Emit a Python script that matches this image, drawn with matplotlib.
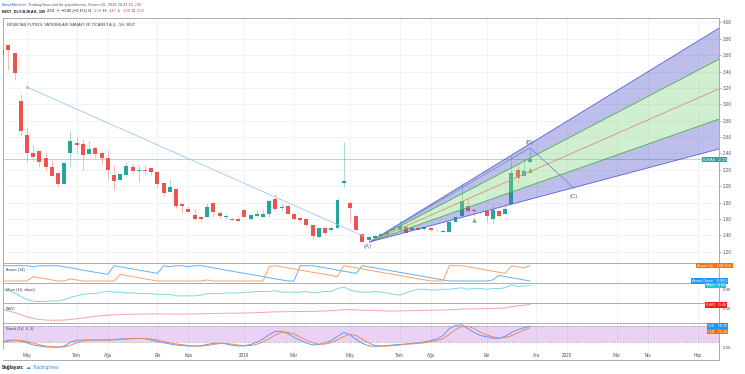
import numpy as np
import matplotlib.pyplot as plt
from matplotlib.patches import Rectangle

plt.rcParams['font.family'] = ['Liberation Sans', 'DejaVu Sans']

# weekly bars, week 0 = first week of May 2018
weeks = list(range(-4, 82))
opens = [3.60, 3.72, 3.63, 3.04, 2.63, 2.41, 2.43, 2.35, 2.24, 2.16,
         2.03, 2.40, 2.53, 2.51, 2.39, 2.47, 2.40, 2.35, 2.14, 2.08,
         2.14, 2.24, 2.19, 2.20, 2.22, 2.175, 2.04, 1.93, 1.965, 1.78,
         1.72, 1.645, 1.62, 1.62, 1.795, 1.675, 1.63, 1.605, 1.605, 1.715,
         1.595, 1.64, 1.63, 1.665, 1.85, 1.74, 1.755, 1.655, 1.615, 1.595,
         1.525, 1.38, 1.485, 1.465, 1.485, 2.045, 1.795, 1.635, 1.415, 1.34,
         1.37, 1.39, 1.40, 1.46, 1.46, 1.50, 1.47, 1.495, 1.48, 1.495,
         1.465, 1.445, 1.44, 1.565, 1.635, 1.755, 1.715, 1.67, 1.70, 1.595,
         1.70, 1.665, 1.78, 2.195, 2.125, 2.29]
highs = [3.70, 3.72, 3.63, 3.12, 2.71, 2.50, 2.43, 2.41, 2.32, 2.16,
         2.30, 2.67, 2.60, 2.58, 2.55, 2.49, 2.43, 2.44, 2.26, 2.15,
         2.30, 2.27, 2.26, 2.26, 2.22, 2.175, 2.04, 2.09, 1.965, 1.79,
         1.755, 1.72, 1.635, 1.80, 1.81, 1.71, 1.66, 1.625, 1.635, 1.735,
         1.65, 1.72, 1.72, 1.85, 1.90, 1.79, 1.77, 1.655, 1.625, 1.595,
         1.525, 1.49, 1.50, 1.51, 1.86, 2.54, 1.82, 1.635, 1.415, 1.39,
         1.41, 1.43, 1.46, 1.49, 1.585, 1.51, 1.51, 1.50, 1.51, 1.50,
         1.48, 1.46, 1.58, 1.635, 2.05, 1.84, 1.74, 1.69, 1.70, 1.765,
         1.725, 1.775, 2.38, 2.285, 2.33, 2.47]
lows = [3.57, 3.42, 3.30, 2.63, 2.29, 2.31, 2.24, 2.20, 2.13, 1.99,
        2.03, 2.24, 2.41, 2.20, 2.39, 2.35, 2.27, 2.09, 1.95, 2.08,
        2.12, 2.16, 2.05, 2.14, 2.14, 1.98, 1.88, 1.93, 1.74, 1.67,
        1.685, 1.585, 1.565, 1.62, 1.625, 1.61, 1.60, 1.585, 1.57, 1.62,
        1.59, 1.63, 1.62, 1.62, 1.70, 1.70, 1.655, 1.59, 1.56, 1.51,
        1.35, 1.37, 1.42, 1.455, 1.485, 1.99, 1.565, 1.47, 1.32, 1.33,
        1.36, 1.38, 1.39, 1.45, 1.46, 1.43, 1.46, 1.46, 1.47, 1.45,
        1.45, 1.44, 1.44, 1.56, 1.625, 1.69, 1.65, 1.66, 1.565, 1.545,
        1.625, 1.655, 1.78, 2.04, 2.12, 2.28]
closes = [3.66, 3.66, 3.38, 2.67, 2.41, 2.36, 2.30, 2.24, 2.13, 2.03,
          2.285, 2.55, 2.50, 2.38, 2.45, 2.39, 2.35, 2.20, 2.065, 2.15,
          2.245, 2.18, 2.195, 2.18, 2.17, 2.03, 1.92, 1.985, 1.755, 1.76,
          1.685, 1.595, 1.595, 1.75, 1.685, 1.635, 1.635, 1.59, 1.57, 1.62,
          1.645, 1.665, 1.655, 1.82, 1.72, 1.75, 1.655, 1.605, 1.585, 1.525,
          1.39, 1.485, 1.435, 1.485, 1.83, 2.065, 1.74, 1.47, 1.32, 1.38,
          1.39, 1.42, 1.445, 1.48, 1.51, 1.435, 1.495, 1.47, 1.50, 1.46,
          1.46, 1.45, 1.565, 1.625, 1.815, 1.70, 1.70, 1.675, 1.635, 1.715,
          1.635, 1.725, 2.16, 2.095, 2.19, 2.33]

aroon_up = [0, 0, 0, 0, 0, 29, 21, 14, 7, 0,
            0, 14, 7, 0, 0, 0, 0, 0, 0, 43,
            36, 29, 21, 14, 7, 0, 0, 0, 0, 0,
            0, 0, 0, 7, 0, 0, 0, 0, 0, 0,
            0, 0, 0, 93, 100, 93, 86, 79, 71, 64,
            57, 50, 43, 36, 29, 100, 93, 86, 79, 71,
            64, 57, 50, 43, 36, 29, 21, 14, 7, 0,
            0, 0, 100, 100, 100, 93, 86, 79, 71, 64,
            57, 50, 100, 93, 86, 100]
aroon_down = [100, 100, 100, 100, 100, 93, 100, 100, 100, 100,
              93, 86, 79, 71, 64, 57, 50, 43, 100, 93,
              86, 79, 71, 64, 57, 50, 100, 93, 100, 100,
              93, 100, 100, 93, 86, 79, 71, 64, 57, 50,
              43, 36, 29, 21, 14, 7, 0, 0, 100, 100,
              100, 93, 86, 79, 71, 64, 57, 50, 100, 93,
              86, 79, 71, 64, 57, 50, 43, 36, 29, 21,
              14, 7, 0, 0, 0, 0, 0, 0, 0, 7,
              36, 29, 21, 14, 7, 0]
mom = [0.1, -0.1, -0.4, -0.9, -1.3, -1.5, -1.6, -1.55, -1.5, -1.5,
       -1.3, -1.0, -0.8, -0.6, -0.5, -0.5, -0.3, -0.2, -0.3, -0.3,
       -0.4, -0.4, -0.5, -0.5, -0.5, -0.6, -0.6, -0.6, -0.8, -0.8,
       -0.8, -0.8, -0.7, -0.5, -0.5, -0.5, -0.4, -0.4, -0.4, -0.3,
       -0.3, -0.2, -0.2, -0.2, -0.1, -0.3, -0.3, -0.3, -0.3, -0.2,
       -0.4, -0.3, -0.2, -0.2, 0.2, 0.4, 0.0, -0.2, -0.3, -0.3,
       -0.2, -0.3, -0.4, -0.6, -0.7, -0.4, -0.1, 0.1, 0.1, 0.0,
       0.0, 0.1, 0.1, 0.2, 0.3, 0.1, 0.2, 0.2, 0.1, 0.2,
       0.2, 0.3, 0.7, 0.5, 0.55, 0.62]
ewo = [-0.05, -0.15, -0.3, -0.5, -0.7, -0.85, -0.95, -1.0, -1.02, -1.02,
       -1.0, -0.95, -0.88, -0.8, -0.72, -0.65, -0.6, -0.55, -0.52, -0.5,
       -0.48, -0.46, -0.45, -0.44, -0.43, -0.43, -0.44, -0.44, -0.45, -0.45,
       -0.44, -0.43, -0.42, -0.4, -0.39, -0.38, -0.37, -0.36, -0.36, -0.35,
       -0.33, -0.31, -0.29, -0.26, -0.24, -0.23, -0.22, -0.21, -0.21, -0.2,
       -0.2, -0.17, -0.15, -0.12, -0.08, -0.04, -0.03, -0.05, -0.08, -0.1,
       -0.12, -0.14, -0.16, -0.16, -0.15, -0.14, -0.12, -0.11, -0.1, -0.09,
       -0.08, -0.07, -0.05, -0.02, 0.02, 0.03, 0.04, 0.05, 0.06, 0.08,
       0.09, 0.12, 0.25, 0.32, 0.38, 0.46]
stoch_k = [22, 27, 28, 24, 18, 10, 6, 3, 2, 2,
           6, 20, 27, 28, 28, 28, 28, 28, 30, 32,
           33, 34, 34, 33, 28, 22, 18, 14, 10, 8,
           6, 6, 7, 12, 16, 17, 14, 9, 6, 7,
           12, 20, 32, 48, 60, 60, 52, 38, 27, 17,
           10, 12, 18, 26, 42, 56, 48, 30, 16, 7,
           5, 6, 8, 10, 12, 14, 16, 18, 21, 26,
           32, 45, 70, 82, 84, 70, 56, 45, 40, 35,
           34, 42, 55, 66, 73, 78.76]
stoch_d = [20, 23, 26, 26, 23, 17, 11, 6, 4, 2,
           3, 9, 18, 25, 28, 28, 28, 28, 29, 30,
           32, 33, 34, 34, 32, 28, 23, 18, 14, 11,
           8, 7, 6, 8, 12, 15, 16, 13, 10, 7,
           8, 13, 21, 33, 47, 56, 57, 50, 39, 27,
           18, 13, 13, 19, 29, 41, 49, 45, 31, 18,
           9, 6, 6, 8, 10, 12, 14, 16, 18, 22,
           26, 34, 49, 66, 79, 79, 70, 57, 47, 40,
           36, 37, 44, 54, 65, 73.36]

tick_weeks = [0, 8, 13, 21, 26, 35, 43, 52, 60, 65, 74, 82, 87, 95, 100, 108]
tick_labels = ['May', 'Tem', 'Ağu', 'Eki', 'Kas', '2019', 'Mar', 'May',
               'Tem', 'Ağu', 'Eki', 'Ara', '2020', 'Mar', 'Nis', 'Haz']
price_ticks = [1.2, 1.4, 1.6, 1.8, 2.0, 2.2, 2.4, 2.6, 2.8, 3.0, 3.2, 3.4, 3.6, 3.8, 4.0]

last_price = 2.33
trend_w = [0.0, 54.2]
trend_p = [3.21, 1.39]
fan_origin = (55.2, 1.32)
fan_end_w = 111.43
fan_end_p = [3.93, 3.55, 3.19, 2.82, 2.455]
abc_w = [55.2, 81.0, 88.1]
abc_p = [1.32, 2.47, 1.975]
signal_w = [72, 81]
signal_p = [1.585, 2.196]

UP, DOWN = '#26a69a', '#ef5350'
GRID = '#eef1f7'
SEP = '#a9acb5'
W, H = 745, 374
XL, XR = 3, 719
XLIM = (-3.865, 111.43)

fig = plt.figure(figsize=(W / 100, H / 100), dpi=100)
fig.patch.set_facecolor('white')


def pane(top, bottom):
    a = fig.add_axes([XL / W, 1 - bottom / H, (XR - XL) / W, (bottom - top) / H])
    a.set_xlim(*XLIM)
    a.set_xticks([])
    a.set_yticks([])
    for s in a.spines.values():
        s.set_color(SEP)
        s.set_linewidth(0.7)
    for tw in tick_weeks:
        a.axvline(tw, color=GRID, lw=0.6, zorder=0)
    return a


def badge(x, y, txt, fc, size=2.8):
    fig.text(x / W, 1 - y / H, txt, fontsize=size, color='white', ha='left', va='center',
             bbox=dict(boxstyle='square,pad=0.2', fc=fc, ec='none'))


def zero_label(y):
    fig.text(723 / W, 1 - y / H, '0.00', fontsize=3.2, color='#50535e', ha='left', va='center')


# ---- price pane
ax = pane(18, 263.3)
ax.set_ylim(1.059, 4.054)
for p in price_ticks:
    ax.axhline(p, color=GRID, lw=0.6, zorder=0)
ax.yaxis.tick_right()
ax.set_yticks(price_ticks)
ax.set_yticklabels(['%.2f' % p for p in price_ticks])
ax.tick_params(axis='y', labelsize=3.3, labelcolor='#50535e', length=1.5, width=0.4,
               color='#787b86', pad=1)

for w, o, h, l, c in zip(weeks, opens, highs, lows, closes):
    col = UP if c >= o else DOWN
    ax.vlines(w, l, h, color=col, lw=0.5, alpha=0.55, zorder=2)
    ax.add_patch(Rectangle((w - 0.32, min(o, c)), 0.64, max(abs(c - o), 0.006),
                           fc=col, ec='none', zorder=3))

ax.axhline(last_price, color='#26a69a', lw=0.6, alpha=0.45, zorder=2)
ax.plot(trend_w, trend_p, color='#9fc6ec', lw=0.6, zorder=4)
ax.plot(trend_w[0], trend_p[0], 'o', ms=1.2, color='#9fc6ec', zorder=4)

band_cols = ['#5454c8', '#85d385', '#85d385', '#5454c8']
for i in range(4):
    ax.fill([fan_origin[0], fan_end_w, fan_end_w],
            [fan_origin[1], fan_end_p[i], fan_end_p[i + 1]],
            color=band_cols[i], alpha=0.38, lw=0, zorder=5)
line_cols = ['#5b5ed8', '#4caf50', '#d9926c', '#4caf50', '#5b5ed8']
for pe, lc in zip(fan_end_p, line_cols):
    ax.plot([fan_origin[0], fan_end_w], [fan_origin[1], pe], color=lc, lw=0.6, zorder=6)

ax.plot(abc_w, abc_p, color='#6b94d4', lw=0.6, zorder=7)
ax.text(54.9, 1.267, '(A)', fontsize=4.3, color='#56709e', ha='center', va='center', zorder=8)
ax.text(80.9, 2.535, '(B)', fontsize=4.3, color='#56709e', ha='center', va='center', zorder=8)
ax.text(88.0, 1.878, '(C)', fontsize=4.3, color='#56709e', ha='center', va='center', zorder=8)
ax.plot(signal_w, signal_p, '^', ms=3.2, color='#5cc15f', mec='none', zorder=8)

ax.text(0.005, 0.973, 'BEŞİKTAŞ FUTBOL YATIRIMLARI SANAYİ VE TİCARET A.Ş., 1H, BIST',
        transform=ax.transAxes, fontsize=2.9, color='#3c3f48', ha='left', va='center')
badge(703, 159.5, 'BJKAS   2.33', '#26a69a')

# ---- Aroon
a1 = pane(263.3, 283.3)
a1.set_ylim(-15, 115.7)
a1.plot(weeks, aroon_down, color='#62b2f4', lw=0.7)
a1.plot(weeks, aroon_up, color='#ffa166', lw=0.7)
a1.text(0.004, 0.66, 'Aroon (14)', transform=a1.transAxes, fontsize=2.9, color='#3c3f48', va='center')
badge(697, 265.6, 'Aroon Up   100.00%', '#ff6d00')
badge(692, 281.2, 'Aroon Down   0.00%', '#2196f3')

# ---- Momentum
a2 = pane(283.3, 303.3)
a2.set_ylim(-1.82, 0.92)
a2.plot(weeks, mom, color='#7fd7e4', lw=0.7)
a2.text(0.004, 0.67, 'Mom (10, close)', transform=a2.transAxes, fontsize=2.9, color='#3c3f48', va='center')
badge(706, 285.3, 'Mom   0.62', '#26c6da')
zero_label(290.3)

# ---- EWO
a3 = pane(303.3, 322.7)
a3.set_ylim(-1.25, 0.56)
a3.plot(weeks, ewo, color='#f4a4a4', lw=0.7)
a3.text(0.004, 0.72, 'EWO', transform=a3.transAxes, fontsize=2.9, color='#3c3f48', va='center')
badge(706, 305.0, 'EWO   0.46', '#f21b1b')
zero_label(309.5)

# ---- Stochastic
a4 = pane(322.7, 349.3)
a4.set_ylim(-5.9, 91.9)
a4.axhspan(20, 80, color='#b15fe0', alpha=0.28, lw=0, zorder=1)
for lvl in (20, 80):
    a4.axhline(lvl, color='#8a8d96', lw=0.5, ls=(0, (2, 2)), zorder=2)
a4.plot(weeks, stoch_k, color='#5d9cf5', lw=0.7, zorder=3)
a4.plot(weeks, stoch_d, color='#f4885a', lw=0.7, zorder=3)
a4.text(0.004, 0.78, 'Stoch (14, 3, 3)', transform=a4.transAxes, fontsize=2.9, color='#3c3f48', va='center')
badge(708, 325.8, '%K   78.76', '#2196f3')
badge(708, 331.6, '%D   73.36', '#ff6d00')
zero_label(347.7)

# ---- time axis
at = pane(349.3, 360)
at.set_ylim(0, 1)
for s in ('top', 'left', 'right'):
    at.spines[s].set_visible(False)
for tw, tl in zip(tick_weeks, tick_labels):
    at.text(tw, 0.45, tl, fontsize=3.3, color='#50535e', ha='center', va='center')

# right axis frame line spanning all panes
fig.add_artist(plt.Line2D([XR / W, XR / W], [1 - 360 / H, 1 - 18 / H], color=SEP, lw=0.7))

# ---- header lines
renderer = fig.canvas.get_renderer()


def seq_text(x, y, parts, size, gap=1.0):
    for s, col, wt in parts:
        t = fig.text(x / W, 1 - y / H, s, fontsize=size, color=col, fontweight=wt,
                     ha='left', va='center')
        x += t.get_window_extent(renderer).width + gap


seq_text(2, 5, [('BorsaMerkezi', '#2962ff', 'normal'),
                ("TradingView.com'da yayınlanmış, Kasım 26, 2019 20:41:15 +03", '#5d606b', 'normal')], 2.9)
seq_text(2, 11, [('BIST_DLY:BJKAS, 1W', '#131722', 'bold'),
                 ('2.33', '#131722', 'normal'), ('▼', '#ef5350', 'normal'),
                 ('−0.05 (−2.1%)', '#131722', 'normal'),
                 ('O:', '#131722', 'normal'), ('2.29', '#ef5350', 'normal'),
                 ('H:', '#131722', 'normal'), ('2.47', '#ef5350', 'normal'),
                 ('L:', '#131722', 'normal'), ('2.28', '#ef5350', 'normal'),
                 ('C:', '#131722', 'normal'), ('2.33', '#ef5350', 'normal')], 3.0, gap=1.3)

seq_text(2, 367.5, [('Sağlayan:', '#131722', 'bold'), ('☁', '#2196f3', 'normal'),
                    ('TradingView', '#2196f3', 'normal')], 3.4, gap=1.6)

fig.savefig('out.png', dpi=100, facecolor='white')
